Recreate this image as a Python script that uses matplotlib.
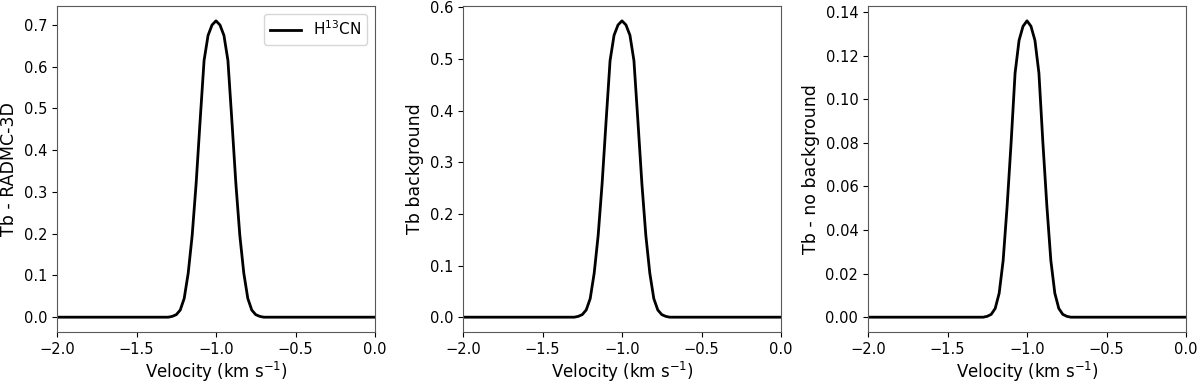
import numpy as np
import matplotlib
matplotlib.use("Agg")
import matplotlib.pyplot as plt

# velocity channels (km/s); flat zero baseline outside the line
velocity = [-2.0, -1.3, -1.275, -1.25, -1.225, -1.2, -1.175, -1.15, -1.125, -1.1,
            -1.075, -1.05, -1.025, -1.0, -0.975, -0.95, -0.925, -0.9, -0.875,
            -0.85, -0.825, -0.8, -0.775, -0.75, -0.725, -0.7, 0.0]

tb_radmc = [0.0, 0.0, 0.002, 0.006, 0.017, 0.045, 0.105, 0.195, 0.32, 0.47,
            0.615, 0.675, 0.700, 0.710, 0.700, 0.675, 0.615, 0.47, 0.32,
            0.195, 0.105, 0.045, 0.017, 0.006, 0.002, 0.0, 0.0]

tb_background = [0.0, 0.0, 0.0016, 0.005, 0.014, 0.036, 0.085, 0.158, 0.259, 0.380,
                 0.497, 0.546, 0.566, 0.574, 0.566, 0.546, 0.497, 0.380, 0.259,
                 0.158, 0.085, 0.036, 0.014, 0.005, 0.0016, 0.0, 0.0]

tb_nobackground = [0.0, 0.0, 0.0, 0.0004, 0.0013, 0.004, 0.0110, 0.026, 0.051, 0.080,
                   0.112, 0.127, 0.1335, 0.136, 0.1335, 0.127, 0.112, 0.080, 0.051,
                   0.026, 0.0110, 0.004, 0.0013, 0.0004, 0.0, 0.0, 0.0]

panels = [
    (tb_radmc, "Tb - RADMC-3D"),
    (tb_background, "Tb background"),
    (tb_nobackground, "Tb - no background"),
]
lefts = [57 / 1200, 463 / 1200, 868 / 1200]

fig = plt.figure(figsize=(12, 3.83), dpi=100)

for i, (tb, ylab) in enumerate(panels):
    ax = fig.add_axes([lefts[i], 51 / 383, 318 / 1200, 326 / 383])
    ax.plot(velocity, tb, color="black", linewidth=2.0, label="H$^{13}$CN")
    ax.set_xlim(-2.0, 0.0)
    ax.set_xticks([-2.0, -1.5, -1.0, -0.5, 0.0])
    ax.set_xlabel("Velocity (km s$^{-1}$)", fontsize=12, labelpad=2)
    ax.set_ylabel(ylab, fontsize=12.5)
    ax.tick_params(labelsize=10.5)
    for s in ax.spines.values():
        s.set_color("0.35")
    if i == 0:
        ax.legend(loc="upper right", fontsize=11)

fig.savefig("out.png", dpi=100)
